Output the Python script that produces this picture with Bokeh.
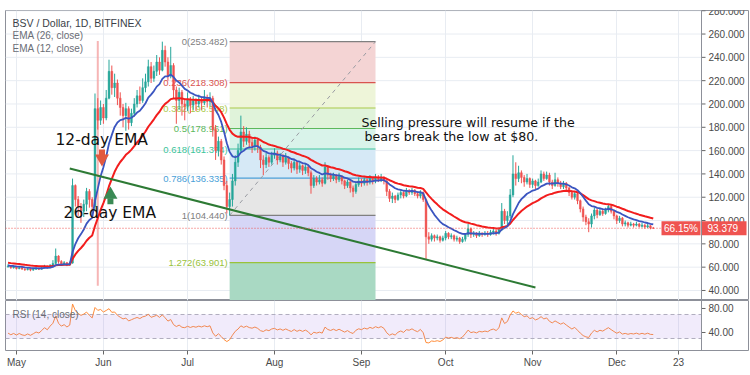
import numpy as np
import pandas as pd
from bokeh.plotting import figure
from bokeh.layouts import column
from bokeh.models import (Range1d, FixedTicker, Span, Label, BoxAnnotation, ColumnDataSource)
from bokeh.core.properties import value
from bokeh.embed import file_html
from bokeh.resources import INLINE

# ---------------- data ----------------
START_DATE = "2019-04-28"
AXIS_ORIGIN = "2019-05-01"
FIRST_OPEN = 60.5

close = [61.0, 59.5, 60.2, 58.8, 59.6, 58.4, 57.9, 58.6, 57.5, 58.2,
         59.0, 58.3, 59.4, 60.8, 59.6, 61.5, 63.2, 69.5, 64.8, 62.5,
         63.8, 61.9, 63.5, 130, 118, 112, 108, 114, 125, 118,
         112, 196, 186, 197, 188, 205, 228, 214, 218, 205,
         197, 190, 196, 184, 192, 200, 207, 203, 214, 219,
         232, 222, 228, 236, 229, 246, 236, 224, 233, 212,
         203, 210, 200, 198, 204, 199, 203, 200, 204, 201,
         205, 202, 205, 178, 160, 168, 152, 130, 112, 118,
         134, 150, 160, 176, 168, 174, 167, 164, 169, 163,
         152, 148, 154, 150, 156, 158, 152, 155, 150, 154,
         149, 145, 150, 144, 147, 143, 146, 141, 130, 136,
         133, 135, 132, 146, 139, 136, 139, 135, 138, 134,
         130, 133, 128, 125, 131, 134, 132, 135, 133, 136,
         134, 137, 135, 137, 134, 125, 119, 121, 118, 122,
         124, 121, 125, 124, 126, 123, 121, 124, 118, 86,
         84, 87, 85, 86, 83, 85, 89, 86, 87, 84,
         85, 82, 84, 88, 93, 88, 89, 87, 89, 88,
         89, 88, 90, 91, 89, 92, 108, 100, 104, 122,
         140, 136, 141, 137, 133, 136, 131, 134, 130, 133,
         140, 136, 139, 133, 130, 135, 132, 129, 132, 128,
         124, 120, 123, 117, 110, 103, 99, 97, 104, 109,
         105, 108, 106, 109, 112, 108, 104, 100, 102, 97,
         98, 96, 97, 96, 97, 95, 96, 94.5, 95.5, 93.615,
         93.379]

high = [62.5, 61.8, 61.0, 60.6, 60.4, 60.0, 59.0, 59.4, 59.0, 58.9,
        59.8, 59.6, 60.3, 62.0, 61.5, 62.6, 66.0, 76.0, 70.2, 66.0,
        65.2, 64.5, 64.8, 136, 131, 121, 115, 118, 128, 127,
        120, 209, 205, 203, 200, 212, 238, 233, 226, 221,
        210, 200, 201, 198, 196, 205, 212, 215, 222, 226,
        238, 236, 233, 242, 240, 253.482, 250, 240, 249, 235,
        215, 214, 212, 204, 210, 206, 207, 205, 208, 206,
        212, 208, 210, 207, 182, 172, 170, 155, 134, 124,
        140, 156, 166, 190, 181, 180, 177, 171, 172, 170,
        165, 156, 158, 156, 159, 162, 160, 158, 157, 158,
        155, 151, 153, 151, 150, 148, 149, 148, 143, 139,
        138, 139, 137, 150, 147, 141, 141, 140, 141, 139,
        135, 135, 134, 130, 133, 137, 136, 137, 136, 139,
        137, 140, 139, 140, 138, 135, 127, 124, 122, 124,
        126, 125, 128, 127, 128, 127, 125, 126, 125, 119,
        90, 89, 88, 88, 87, 87, 91, 90, 89, 88,
        87, 86, 86, 89, 97, 94, 91, 90, 91, 90,
        91, 91, 92, 93, 92, 94, 115, 110, 108, 127,
        156, 150, 147, 143, 139, 140, 137, 136, 135, 136,
        143, 142, 142, 141, 135, 141, 137, 134, 134, 133,
        129, 126, 125, 124, 118, 112, 105, 102, 106, 111,
        110, 111, 110, 111, 114, 113, 109, 105, 104, 103,
        100, 99, 99, 98, 99, 98, 98, 97, 97, 96,
        94.5]

low = [59.5, 58.6, 58.8, 58.0, 58.2, 57.6, 56.8, 57.2, 56.5, 56.9,
       57.6, 57.5, 57.9, 59.0, 58.8, 59.2, 60.8, 62.5, 63.0, 61.0,
       61.8, 60.9, 61.5, 63.0, 112, 104, 98, 103, 108, 111,
       104, 108, 178, 182, 183, 186, 204, 208, 206, 199,
       190, 180, 177, 178, 181, 189, 197, 200, 201, 210,
       215, 218, 219, 224, 225, 228, 232, 220, 222, 205,
       183, 195, 190, 186, 194, 192, 195, 194, 197, 195,
       199, 197, 198, 172, 152, 155, 148, 126, 106, 104.44,
       112, 130, 146, 158, 163, 165, 162, 158, 160, 158,
       145, 139, 145, 146, 148, 153, 148, 150, 146, 148,
       144, 141, 143, 140, 141, 139, 140, 138, 123, 128,
       130, 131, 129, 131, 135, 133, 134, 132, 133, 131,
       127, 128, 124, 120, 123, 129, 129, 130, 130, 131,
       131, 132, 133, 133, 131, 121, 116, 115, 115, 117,
       119, 119, 120, 122, 122, 121, 119, 119, 116, 67,
       80, 82, 82, 83, 81, 82, 83, 84, 84, 82,
       82, 80, 81, 82, 86, 85, 86, 85, 86, 86,
       87, 86, 87, 88, 87, 88, 91, 97, 96, 102,
       120, 130, 133, 132, 129, 131, 128, 128, 127, 129,
       132, 134, 135, 130, 127, 129, 129, 127, 127, 125,
       121, 118, 118, 114, 107, 99, 96, 90, 94, 101,
       102, 104, 104, 105, 107, 106, 101, 97, 98, 95,
       95, 94, 95, 94, 95, 94, 94, 93, 93.5, 92.5,
       92.8]

EMA12_SEED = 61.5   # EMA(12) level at first visible candle
EMA26_SEED = 64.0   # EMA(26) level at first visible candle
RSI_SEED_GAIN = 0.6
RSI_SEED_LOSS = 1.0

month_ticks = ["2019-05-01", "2019-06-01", "2019-07-01", "2019-08-01", "2019-09-01",
               "2019-10-01", "2019-11-01", "2019-12-01", "2019-12-23"]
month_labels = ["May", "Jun", "Jul", "Aug", "Sep", "Oct", "Nov", "Dec", "23"]
price_ticks = [40, 60, 80, 100, 120, 140, 160, 180, 200, 220, 240, 260, 280]
rsi_ticks = [40, 80]

FIB_HIGH = 253.482
FIB_LOW = 104.440
FIB_START = "2019-07-16"
FIB_END = "2019-09-06"
fib_levels = [0, 0.236, 0.382, 0.5, 0.618, 0.786, 1, 1.272, 1.618]
fib_line_colors = ["#808080", "#d9534f", "#a9c94a", "#5cb85c", "#3cc49a", "#4a9fd8",
                   "#808080", "#99c23a", "#3d6fd8"]
fib_fill_colors = ["#f4d4d4", "#eef5d9", "#e0f3da", "#d9f3ea", "#d6e9f6", "#e6e6e6",
                   "#d6d6f6", "#a9d9c3"]

TREND_DATES = ["2019-05-20", "2019-11-02"]
TREND_PRICES = [144.6, 42.6]
VLINE_DATE = "2019-05-30"
VLINE_PRICES = [44, 254]
LAST_PRICE = 93.379
LAST_LABEL = "93.379"
PCT_LABEL = "66.15%"

# ---------------- layout constants ----------------
W = 749
FRAME_L = 5
AXIS_X = 701
PX_PER_DAY = 2.8053
X0 = -3.9
X_SEP = X0 + (AXIS_X - FRAME_L) / PX_PER_DAY
XR = Range1d(X0, X0 + (W - FRAME_L) / PX_PER_DAY)
YR = Range1d(31.4, 280.2)
FONT = "Liberation Sans"
TXT = "DejaVu Sans"
GRID = "#e8ecf2"
FRAME = "#8d9099"
AXTXT = "#4a4a4a"

# ---------------- derived ----------------
origin = pd.Timestamp(AXIS_ORIGIN)
def dnum(s):
    return (pd.Timestamp(s) - origin) / pd.Timedelta(days=1)

dates = pd.date_range(START_DATE, periods=len(close), freq="D")
x = np.array([(d - origin) / pd.Timedelta(days=1) for d in dates])
opens = [FIRST_OPEN] + close[:-1]
hi = [max(h, o, c) for h, o, c in zip(high, opens, close)]
lo = [min(l, o, c) for l, o, c in zip(low, opens, close)]
colors = ["#26a69a" if c >= o else "#ef5350" for o, c in zip(opens, close)]

def ema(vals, n, seed):
    a = 2.0 / (n + 1)
    e = seed
    out = []
    for v in vals:
        e = e + a * (v - e)
        out.append(e)
    return out

ema12 = ema(close, 12, EMA12_SEED)
ema26 = ema(close, 26, EMA26_SEED)

rsi = []
ag, al = RSI_SEED_GAIN, RSI_SEED_LOSS
prev = FIRST_OPEN
for c in close:
    ch = c - prev
    ag = (ag * 13 + max(ch, 0)) / 14
    al = (al * 13 + max(-ch, 0)) / 14
    rsi.append(100 - 100 / (1 + ag / al))
    prev = c

src = ColumnDataSource(dict(x=x, c=close, h=hi, l=lo, col=colors,
                            top=[max(o, c) for o, c in zip(opens, close)],
                            bot=[min(o, c) for o, c in zip(opens, close)]))
month_x = [dnum(t) for t in month_ticks]

# ---------------- main pane ----------------
p = figure(width=W, height=300, x_range=XR, y_range=YR,
           y_axis_location=None, x_axis_location=None,
           output_backend="svg", toolbar_location=None,
           min_border_left=FRAME_L, min_border_right=0, min_border_top=10, min_border_bottom=0)
p.outline_line_color = FRAME
p.xgrid.ticker = FixedTicker(ticks=month_x)
p.xgrid.grid_line_color = GRID
p.ygrid.visible = False
n_pt = len(price_ticks)
p.segment(x0=[X0] * n_pt, x1=[X_SEP] * n_pt, y0=price_ticks, y1=price_ticks,
          line_color=GRID, line_width=1)

# fib bands
fx0, fx1 = dnum(FIB_START), dnum(FIB_END)
fib_prices = [FIB_HIGH - lv * (FIB_HIGH - FIB_LOW) for lv in fib_levels]
p.quad(left=[fx0] * 8, right=[fx1] * 8, top=fib_prices[:-1], bottom=fib_prices[1:],
       fill_color=fib_fill_colors, line_color=None)
p.segment(x0=[fx0] * 8, x1=[fx1] * 8, y0=fib_prices[:-1], y1=fib_prices[:-1],
          line_color=fib_line_colors[:-1], line_width=1.2)
fib_text = ["%s(%.3f)" % (("%g" % lv), pr) for lv, pr in zip(fib_levels[:-1], fib_prices[:-1])]
p.text(x=[fx0] * 8, y=fib_prices[:-1], text=fib_text, text_color=fib_line_colors[:-1],
       text_align="right", text_baseline="middle", x_offset=-2,
       text_font=value(FONT), text_font_size="9.5px")
p.line([fx0, fx1], [FIB_LOW, FIB_HIGH], line_color="#9a9ca3", line_dash="4 4", line_width=1)

# vertical marker line
p.line([dnum(VLINE_DATE)] * 2, VLINE_PRICES, line_color="#f4a3a3", line_width=2, line_alpha=0.8)

# candles
p.segment(x0="x", x1="x", y0="l", y1="h", line_color="col", line_width=1, source=src)
p.vbar(x="x", width=0.62, top="top", bottom="bot", fill_color="col", line_color="col",
       line_width=0.5, source=src)

# EMAs
p.line(x, ema26, line_color="#f21d1d", line_width=2)
p.line(x, ema12, line_color="#3b55c0", line_width=1.8)

# trend line
p.line([dnum(d) for d in TREND_DATES], TREND_PRICES, line_color="#2d7a34", line_width=2)

# last price dotted line
p.segment(x0=[X0], x1=[X_SEP], y0=[LAST_PRICE], y1=[LAST_PRICE],
          line_color="#ef5350", line_dash="1 2", line_width=1)

# arrows
ax_dn = dnum("2019-05-31") + 0.5
ax_up = dnum("2019-06-03") + 0.5
p.rect(x=[ax_dn], y=[158.3], width=6, height=6, width_units="screen", height_units="screen",
       fill_color="#e2593f", line_color=None)
p.scatter(x=[ax_dn], y=[153.2], marker="inverted_triangle", size=14,
          fill_color="#e2593f", line_color=None)
p.rect(x=[ax_up], y=[116.6], width=6, height=6, width_units="screen", height_units="screen",
       fill_color="#3a8a55", line_color=None)
p.scatter(x=[ax_up], y=[122.2], marker="triangle", size=14,
          fill_color="#3a8a55", line_color=None)

# annotation texts
p.add_layout(Label(x=dnum("2019-05-14") + 0.9, y=169.5, text="12-day EMA", text_font=TXT,
                   text_font_size="15.5px", text_color="#111111", text_baseline="middle"))
p.add_layout(Label(x=dnum("2019-05-17") + 0.8, y=106.5, text="26-day EMA", text_font=TXT,
                   text_font_size="15.5px", text_color="#111111", text_baseline="middle"))
p.add_layout(Label(x=dnum("2019-09-01"), y=184.3, text="Selling pressure will resume if the",
                   text_font=TXT, text_font_size="12.6px", text_color="#111111",
                   text_baseline="middle"))
p.add_layout(Label(x=dnum("2019-09-02") + 0.1, y=172.5, text="bears break the low at $80.",
                   text_font=TXT, text_font_size="12.6px", text_color="#111111",
                   text_baseline="middle"))

# legend texts
LX = dnum("2019-04-30") - 0.4
p.add_layout(Label(x=LX, y=269.2, text="BSV / Dollar, 1D, BITFINEX", text_font=FONT,
                   text_font_size="10.5px", text_color="#3b3f48", text_baseline="middle"))
p.add_layout(Label(x=LX, y=258.4, text="EMA (26, close)", text_font=FONT,
                   text_font_size="10px", text_color="#6a6d75", text_baseline="middle"))
p.add_layout(Label(x=LX, y=247.2, text="EMA (12, close)", text_font=FONT,
                   text_font_size="10px", text_color="#6a6d75", text_baseline="middle"))

# price scale (right)
p.add_layout(Span(location=X_SEP, dimension="height", line_color=FRAME, line_width=1))
tick_len = 4 / PX_PER_DAY
p.segment(x0=[X_SEP] * n_pt, x1=[X_SEP + tick_len] * n_pt, y0=price_ticks, y1=price_ticks,
          line_color="#666666", line_width=1)
p.text(x=[X_SEP] * n_pt, y=price_ticks, text=["%.3f" % t for t in price_ticks],
       x_offset=7, text_align="left", text_baseline="middle", text_color=AXTXT,
       text_font=value(FONT), text_font_size="10px")

# last price tags
p.rect(x=[X_SEP + 22.5 / PX_PER_DAY], y=[LAST_PRICE], width=45, height=14,
       width_units="screen", height_units="screen", fill_color="#ef5350", line_color=None)
p.text(x=[X_SEP], y=[LAST_PRICE], text=[LAST_LABEL], x_offset=6, text_align="left",
       text_baseline="middle", text_color="white", text_font=value(FONT), text_font_size="10px")
p.rect(x=[X_SEP - 20.5 / PX_PER_DAY], y=[LAST_PRICE], width=39, height=14,
       width_units="screen", height_units="screen", fill_color="#ef5350", line_color=None)
p.text(x=[X_SEP - 20.5 / PX_PER_DAY], y=[LAST_PRICE], text=[PCT_LABEL], text_align="center",
       text_baseline="middle", text_color="white", text_font=value(FONT), text_font_size="10px")

# ---------------- RSI pane ----------------
r = figure(width=W, height=70, x_range=XR, y_range=Range1d(10, 93.3),
           y_axis_location=None, output_backend="svg", toolbar_location=None,
           min_border_left=FRAME_L, min_border_right=0, min_border_top=0, min_border_bottom=20)
r.outline_line_color = FRAME
r.xgrid.ticker = FixedTicker(ticks=month_x)
r.xgrid.grid_line_color = GRID
r.ygrid.visible = False
r.add_layout(BoxAnnotation(bottom=30, top=70, left=X0, right=X_SEP, fill_color="#9c6fe0",
                           fill_alpha=0.14, line_color=None))
r.segment(x0=[X0, X0], x1=[X_SEP, X_SEP], y0=[70, 30], y1=[70, 30],
          line_color="#b3b3bd", line_dash="4 3", line_width=1)
r.line(x, rsi, line_color="#ff8c3a", line_width=1)
r.add_layout(Label(x=LX, y=70, text="RSI (14, close)", text_font=FONT,
                   text_font_size="10px", text_color="#6a6d75", text_baseline="middle"))
r.add_layout(Span(location=X_SEP, dimension="height", line_color=FRAME, line_width=1))
n_rt = len(rsi_ticks)
r.segment(x0=[X_SEP] * n_rt, x1=[X_SEP + tick_len] * n_rt, y0=rsi_ticks, y1=rsi_ticks,
          line_color="#666666", line_width=1)
r.text(x=[X_SEP] * n_rt, y=rsi_ticks, text=["%.2f" % t for t in rsi_ticks],
       x_offset=7, text_align="left", text_baseline="middle", text_color=AXTXT,
       text_font=value(FONT), text_font_size="10px")

r.xaxis.ticker = FixedTicker(ticks=month_x)
r.xaxis.major_label_overrides = {mx: lab for mx, lab in zip(month_x, month_labels)}
r.xaxis.axis_line_color = None
r.xaxis.major_tick_line_color = "#666666"
r.xaxis.major_tick_out = 4
r.xaxis.major_tick_in = 0
r.xaxis.minor_tick_line_color = None
r.xaxis.major_label_text_font = FONT
r.xaxis.major_label_text_font_size = "10px"
r.xaxis.major_label_text_color = AXTXT
r.xaxis.major_label_standoff = 2

layout = column(p, r)
open("out.html", "w").write(file_html(layout, INLINE))
